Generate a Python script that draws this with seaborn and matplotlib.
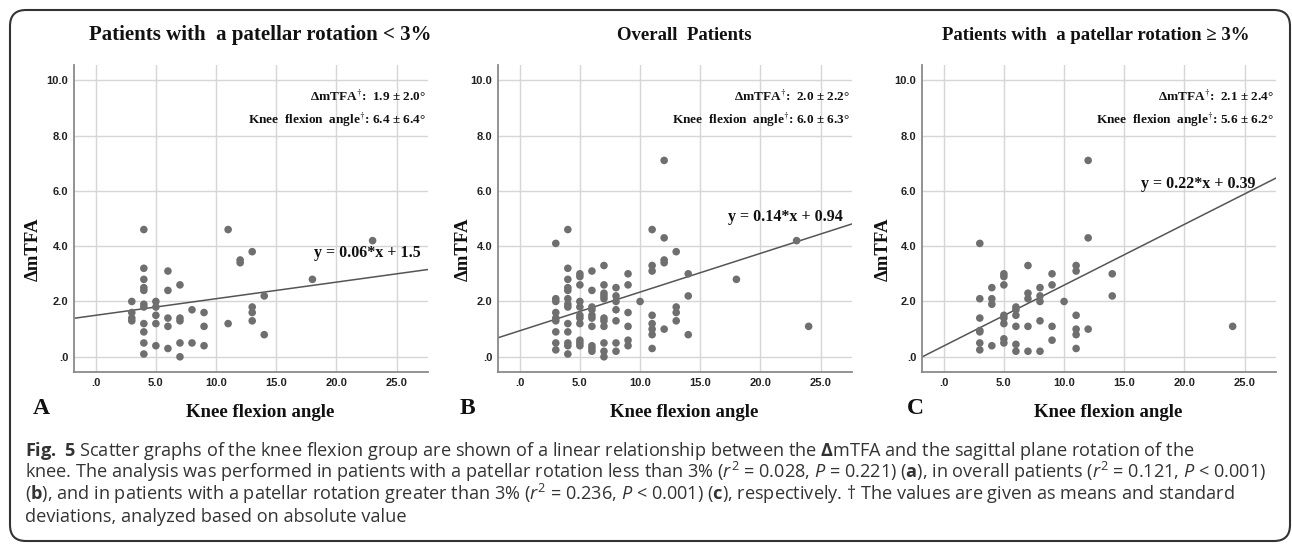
"""Scatter graphs: knee flexion angle vs delta mTFA, three patient groups."""

import matplotlib

matplotlib.use("Agg")
import matplotlib.pyplot as plt  # noqa: E402
import seaborn as sns  # noqa: E402
from matplotlib.patches import FancyBboxPatch  # noqa: E402
from matplotlib.transforms import IdentityTransform  # noqa: E402

# --- data -----------------------------------------------------------------
# A: patellar rotation < 3%
a_x = [3, 3, 3, 3,
       4, 4, 4, 4, 4, 4, 4, 4, 4, 4, 4,
       5, 5, 5, 5, 5,
       6, 6, 6, 6, 6,
       7, 7, 7, 7, 7,
       8, 8,
       9, 9, 9,
       11, 11,
       12, 12,
       13, 13, 13, 13,
       14, 14,
       18, 23]
a_y = [2.0, 1.6, 1.4, 1.3,
       4.6, 3.2, 2.8, 2.5, 2.4, 1.9, 1.8, 1.2, 0.9, 0.5, 0.1,
       2.0, 1.8, 1.5, 1.2, 0.4,
       3.1, 2.4, 1.4, 1.1, 0.3,
       2.6, 1.4, 1.3, 0.5, 0.0,
       1.7, 0.5,
       1.6, 1.1, 0.4,
       4.6, 1.2,
       3.5, 3.4,
       3.8, 1.8, 1.6, 1.3,
       2.2, 0.8,
       2.8, 4.2]

# B: overall patients
b_x = [3, 3, 3, 3, 3, 3, 3, 3, 3,
       4, 4, 4, 4, 4, 4, 4, 4, 4, 4, 4, 4, 4,
       5, 5, 5, 5, 5, 5, 5, 5, 5, 5, 5,
       6, 6, 6, 6, 6, 6, 6, 6, 6, 6,
       7, 7, 7, 7, 7, 7, 7, 7, 7, 7, 7,
       8, 8, 8, 8, 8, 8, 8,
       9, 9, 9, 9, 9, 9,
       10,
       11, 11, 11, 11, 11, 11, 11, 11,
       12, 12, 12, 12, 12,
       13, 13, 13, 13,
       14, 14, 14,
       18, 23, 24]
b_y = [4.1, 2.1, 2.0, 1.6, 1.4, 1.3, 0.9, 0.5, 0.25,
       4.6, 3.2, 2.8, 2.5, 2.4, 2.1, 1.9, 1.8, 1.2, 0.9, 0.5, 0.4, 0.1,
       3.0, 2.9, 2.6, 2.0, 1.8, 1.5, 1.4, 1.2, 0.6, 0.5, 0.4,
       3.1, 2.4, 1.8, 1.7, 1.5, 1.4, 1.1, 0.4, 0.3, 0.2,
       3.3, 2.6, 2.3, 2.2, 2.1, 1.4, 1.3, 1.1, 0.5, 0.2, 0.0,
       2.5, 2.2, 2.0, 1.7, 1.3, 0.5, 0.2,
       3.0, 2.6, 1.6, 1.1, 0.6, 0.4,
       2.0,
       4.6, 3.3, 3.1, 1.5, 1.2, 1.0, 0.8, 0.3,
       7.1, 4.3, 3.5, 3.4, 1.0,
       3.8, 1.8, 1.6, 1.3,
       3.0, 2.2, 0.8,
       2.8, 4.2, 1.1]

# C: patellar rotation >= 3%
c_x = [3, 3, 3, 3, 3, 3, 3,
       4, 4, 4, 4,
       5, 5, 5, 5, 5, 5, 5, 5,
       6, 6, 6, 6, 6, 6,
       7, 7, 7, 7, 7,
       8, 8, 8, 8, 8,
       9, 9, 9, 9,
       10,
       11, 11, 11, 11, 11, 11,
       12, 12, 12,
       14, 14,
       24]
c_y = [4.1, 2.1, 1.4, 0.95, 0.9, 0.5, 0.25,
       2.5, 2.1, 1.9, 0.4,
       3.0, 2.9, 2.6, 1.5, 1.4, 1.2, 0.65, 0.5,
       1.8, 1.7, 1.5, 1.1, 0.45, 0.2,
       3.3, 2.3, 2.1, 1.1, 0.2,
       2.5, 2.2, 2.0, 1.3, 0.2,
       3.0, 2.6, 1.1, 0.6,
       2.0,
       3.3, 3.1, 1.5, 1.0, 0.8, 0.3,
       7.1, 4.3, 1.0,
       3.0, 2.2,
       1.1]

slopes = [0.06, 0.14, 0.22]
intercepts = [1.5, 0.94, 0.39]
equations = ["y = 0.06*x + 1.5", "y = 0.14*x + 0.94", "y = 0.22*x + 0.39"]
eq_pos = [(18.1, 3.75), (17.3, 5.05), (16.4, 6.25)]
mtfa_stats = ["1.9 ± 2.0°", "2.0 ± 2.2°", "2.1 ± 2.4°"]
flex_stats = ["6.4 ± 6.4°", "6.0 ± 6.3°", "5.6 ± 6.2°"]
titles = ["Patients with  a patellar rotation < 3%",
          "Overall  Patients",
          "Patients with  a patellar rotation ≥ 3%"]
letters = ["A", "B", "C"]

x_ticks = [0, 5, 10, 15, 20, 25]
y_ticks = [0, 2, 4, 6, 8, 10]

caption_lines = [
    r"$\mathbf{Fig.\ 5}$ Scatter graphs of the knee flexion group are shown of a linear "
    r"relationship between the $\mathbf{Δ}$mTFA and the sagittal plane rotation of the",
    r"knee. The analysis was performed in patients with a patellar rotation less than 3% "
    r"($\mathit{r}^2$ = 0.028, $\mathit{P}$ = 0.221) ($\mathbf{a}$), in overall patients "
    r"($\mathit{r}^2$ = 0.121, $\mathit{P}$ < 0.001)",
    r"($\mathbf{b}$), and in patients with a patellar rotation greater than 3% "
    r"($\mathit{r}^2$ = 0.236, $\mathit{P}$ < 0.001) ($\mathbf{c}$), respectively. † The "
    r"values are given as means and standard",
    "deviations, analyzed based on absolute value",
]

# --- style ----------------------------------------------------------------
sns.set_theme(style="whitegrid")
plt.rcParams["font.family"] = ["Liberation Serif", "DejaVu Serif"]
plt.rcParams["mathtext.fontset"] = "custom"
plt.rcParams["mathtext.rm"] = "Open Sans"
plt.rcParams["mathtext.it"] = "Open Sans:italic"
plt.rcParams["mathtext.bf"] = "Open Sans:bold"

W, H = 1292, 544
DOT = "#6f6f6f"
LINE = "#555555"
GRID = "#d6d6d6"
SERIF = ["Liberation Serif", "DejaVu Serif"]


def px(x, y):
    """pixel position (from top-left) -> figure fraction"""
    return x / W, 1 - y / H


def tick_text(v):
    return ".0" if v == 0 else f"{v:.1f}"


fig = plt.figure(figsize=(W / 100, H / 100), dpi=100)

panels = [(a_x, a_y), (b_x, b_y), (c_x, c_y)]
lefts = [74, 498, 922]
title_x = [260, 684, 1096]
title_size = [15, 13.5, 13.5]
letter_x = [33, 460, 907]
ylabel_x = [-0.09, -0.075, -0.085]

for i, (xs, ys) in enumerate(panels):
    ax = fig.add_axes([lefts[i] / W, 1 - 372 / H, 354 / W, 307 / H])
    sns.scatterplot(x=xs, y=ys, ax=ax, color=DOT, s=30, edgecolor="none",
                    zorder=3, legend=False)
    ax.axline((0, intercepts[i]), slope=slopes[i], color=LINE, lw=1.1, zorder=2)

    ax.set_xlim(-1.8, 27.6)
    ax.set_ylim(-0.55, 10.55)
    ax.set_xticks(x_ticks)
    ax.set_yticks(y_ticks)
    ax.set_xticklabels([tick_text(v) for v in x_ticks], family="Liberation Sans",
                       fontweight="bold", fontsize=8, color="#222222")
    ax.set_yticklabels([tick_text(v) for v in y_ticks], family="Liberation Sans",
                       fontweight="bold", fontsize=8, color="#222222")
    ax.tick_params(length=0, pad=4)
    ax.grid(True, color=GRID, lw=1)
    ax.set_axisbelow(True)
    for side in ["top", "right"]:
        ax.spines[side].set_visible(False)
    for side in ["left", "bottom"]:
        ax.spines[side].set_color("#8a8a8a")
        ax.spines[side].set_linewidth(1.3)

    ax.set_xlabel("Knee flexion angle", family=SERIF, fontweight="bold",
                  fontsize=13.5, color="#111111")
    ax.xaxis.set_label_coords(0.525, -0.105)
    ax.set_ylabel("ΔmTFA", family=SERIF, fontweight="bold", fontsize=13.5,
                  color="#111111")
    ax.yaxis.set_label_coords(ylabel_x[i], 0.4)

    ax.text(eq_pos[i][0], eq_pos[i][1], equations[i], family=SERIF,
            fontweight="bold", fontsize=11.5, color="#111111", va="center")
    ax.text(0.995, 0.896, r"ΔmTFA$^{\dagger}$:  " + mtfa_stats[i], family=SERIF,
            fontweight="bold", fontsize=9.5, color="#111111", ha="right",
            va="center", transform=ax.transAxes, math_fontfamily="stix")
    ax.text(0.995, 0.821, r"Knee  flexion  angle$^{\dagger}$: " + flex_stats[i],
            family=SERIF, fontweight="bold", fontsize=9.5, color="#111111",
            ha="right", va="center", transform=ax.transAxes,
            math_fontfamily="stix")

    fig.text(*px(title_x[i], 35), titles[i], family=SERIF, fontweight="bold",
             fontsize=title_size[i], ha="center", va="center", color="#111111")
    fig.text(*px(letter_x[i], 414), letters[i], family=SERIF, fontweight="bold",
             fontsize=17, ha="left", va="baseline", color="#111111")

baselines = [456, 478, 500, 522]
for line, yb in zip(caption_lines, baselines):
    fig.text(*px(25, yb), line, family=["Open Sans", "DejaVu Sans"], fontsize=13.1,
             color="#333333", ha="left", va="baseline")

box = FancyBboxPatch((10, H - 541), 1280, 531,
                     boxstyle="round,pad=0,rounding_size=16",
                     transform=IdentityTransform(), fill=False,
                     edgecolor="#333333", lw=1.5)
fig.patches.append(box)

fig.savefig("out.png", dpi=100)
plt.close(fig)
